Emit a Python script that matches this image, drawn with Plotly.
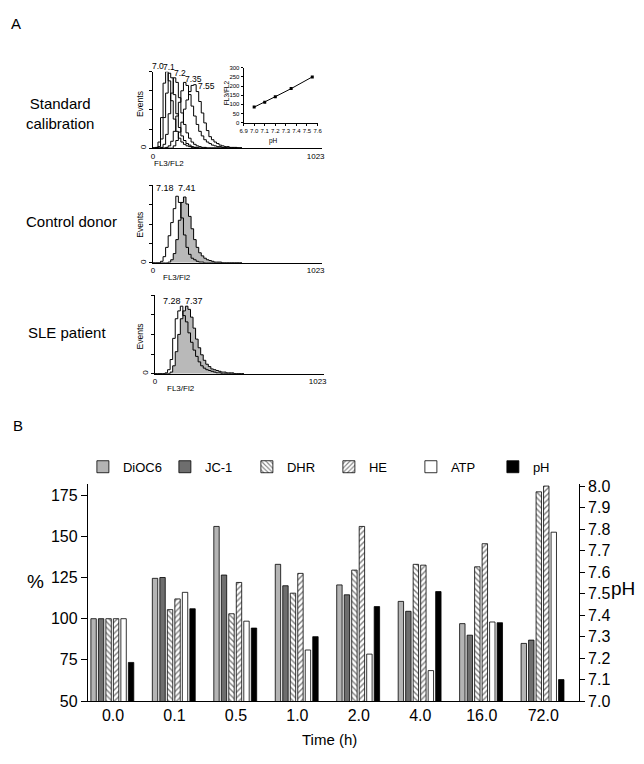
import plotly.graph_objects as go

W, H = 644, 764
FONT = "Liberation Sans, Arial, sans-serif"

# ---------------- Panel A data ----------------
CHANNELS = list(range(0, 576, 16))  # histogram bin starts (FL3/FL2 channel)

CAL_70 = [0, 1, 8, 40, 85, 100, 88, 62, 38, 22, 13, 8, 5, 3, 2, 1, 1, 0,
          0, 0, 0, 0, 0, 0, 0, 0, 0, 0, 0, 0, 0, 0, 0, 0, 0, 0]
CAL_71 = [0, 0, 2, 12, 40, 72, 98, 92, 70, 45, 27, 16, 10, 6, 4, 2, 1, 1,
          0, 0, 0, 0, 0, 0, 0, 0, 0, 0, 0, 0, 0, 0, 0, 0, 0, 0]
CAL_72 = [0, 0, 0, 1, 5, 18, 45, 72, 92, 86, 66, 46, 31, 20, 13, 8, 5, 3,
          2, 1, 1, 0, 0, 0, 0, 0, 0, 0, 0, 0, 0, 0, 0, 0, 0, 0]
CAL_735 = [0, 0, 0, 0, 0, 1, 3, 9, 22, 42, 60, 75, 86, 82, 70, 55, 42, 31,
           22, 16, 11, 8, 6, 4, 3, 2, 2, 1, 1, 0, 0, 0, 0, 0, 0, 0]
CAL_755 = [0, 0, 0, 0, 0, 0, 0, 0, 3, 10, 21, 34, 51, 63, 74, 82, 83, 74,
           61, 46, 33, 23, 15, 11, 8, 6, 4, 3, 2, 2, 1, 1, 1, 0, 0, 0]
CAL_SERIES = [CAL_70, CAL_71, CAL_72, CAL_735, CAL_755]
CAL_LABELS = ["7.0", "7.1", "7.2", "7.35", "7.55"]

CD_OPEN = [0, 0, 0, 2, 8, 20, 35, 52, 70, 86, 78, 58, 36, 20, 11, 6, 4, 2,
           1, 1, 0, 0, 0, 0, 0, 0, 0, 0, 0, 0, 0, 0, 0, 0, 0, 0]
CD_FILL = [0, 0, 0, 0, 0, 0, 1, 4, 12, 30, 55, 78, 85, 76, 60, 44, 30, 20,
           13, 9, 6, 4, 3, 2, 1, 1, 1, 0, 0, 0, 0, 0, 0, 0, 0, 0]
SLE_OPEN = [0, 0, 0, 0, 1, 5, 18, 45, 70, 80, 86, 74, 66, 52, 40, 30, 22, 15,
            10, 7, 5, 4, 3, 2, 1, 1, 0, 0, 0, 0, 0, 0, 0, 0, 0, 0]
SLE_FILL = [0, 0, 0, 0, 0, 0, 2, 10, 28, 50, 70, 80, 86, 82, 72, 58, 44, 33,
            24, 17, 12, 9, 6, 5, 4, 3, 2, 2, 1, 1, 1, 0, 0, 0, 0, 0]

STD_PH = [7.0, 7.1, 7.2, 7.35, 7.55]
STD_RATIO = [85, 112, 142, 186, 250]
INSET_TICKS = [6.9, 7.0, 7.1, 7.2, 7.3, 7.4, 7.5, 7.6]

# ---------------- Panel B data ----------------
TIMES = ["0.0", "0.1", "0.5", "1.0", "2.0", "4.0", "16.0", "72.0"]
DIOC6 = [100, 124.5, 156, 133, 120.5, 110.5, 97, 85]
JC1 = [100, 125, 126.5, 120, 114.5, 104.5, 90, 87]
DHR = [100, 105.5, 103, 115.5, 129.5, 133, 131.5, 177]
HE = [100, 112, 122, 127.5, 156, 132.5, 145.5, 180.5]
ATP = [100, 116, 98.5, 81, 78.5, 68.5, 98, 152.5]
PH = [7.18, 7.43, 7.34, 7.30, 7.44, 7.51, 7.365, 7.10]
PH_TICKS = [7.0, 7.1, 7.2, 7.3, 7.4, 7.5, 7.6, 7.7, 7.8, 7.9, 8.0]


def dx(a, b):
    return [a / W, b / W]


def dy(top, bottom):
    return [1 - bottom / H, 1 - top / H]


fig = go.Figure()

# Histogram 1 (standard calibration)
for s in CAL_SERIES:
    fig.add_trace(go.Scatter(x=CHANNELS, y=s, mode="lines", line=dict(color="black", width=1, shape="hv"),
                             xaxis="x", yaxis="y", showlegend=False, hoverinfo="skip"))
# Inset
fig.add_trace(go.Scatter(x=STD_PH, y=STD_RATIO, mode="lines+markers",
                         line=dict(color="black", width=1),
                         marker=dict(symbol="square", size=3, color="black"),
                         xaxis="x2", yaxis="y2", showlegend=False, hoverinfo="skip"))
# Histogram 2 (control donor)
fig.add_trace(go.Scatter(x=CHANNELS, y=CD_FILL, mode="lines", fill="tozeroy", fillcolor="#b9b9b9",
                         line=dict(color="black", width=1, shape="hv"),
                         xaxis="x3", yaxis="y3", showlegend=False, hoverinfo="skip"))
fig.add_trace(go.Scatter(x=CHANNELS, y=CD_OPEN, mode="lines",
                         line=dict(color="black", width=1, shape="hv"),
                         xaxis="x3", yaxis="y3", showlegend=False, hoverinfo="skip"))
# Histogram 3 (SLE patient)
fig.add_trace(go.Scatter(x=CHANNELS, y=SLE_FILL, mode="lines", fill="tozeroy", fillcolor="#b9b9b9",
                         line=dict(color="black", width=1, shape="hv"),
                         xaxis="x4", yaxis="y4", showlegend=False, hoverinfo="skip"))
fig.add_trace(go.Scatter(x=CHANNELS, y=SLE_OPEN, mode="lines",
                         line=dict(color="black", width=1, shape="hv"),
                         xaxis="x4", yaxis="y4", showlegend=False, hoverinfo="skip"))

# Panel B bars
pos = list(range(len(TIMES)))
BAR_W = 0.088
PITCH = 0.122
series = [
    ("DiOC6", DIOC6, dict(color="#b4b4b4"), "y5"),
    ("JC-1", JC1, dict(color="#6e6e6e"), "y5"),
    ("DHR", DHR, dict(color="white", pattern=dict(shape="\\", fgcolor="black", bgcolor="white",
                                                  size=4, solidity=0.35)), "y5"),
    ("HE", HE, dict(color="white", pattern=dict(shape="/", fgcolor="black", bgcolor="white",
                                                size=4, solidity=0.35)), "y5"),
    ("ATP", ATP, dict(color="white"), "y5"),
    ("pH", PH, dict(color="black"), "y6"),
]
for i, (name, vals, mk, yax) in enumerate(series):
    mk = dict(mk)
    mk["line"] = dict(color="black", width=0.8)
    fig.add_trace(go.Bar(x=pos, y=vals, name=name, marker=mk, width=BAR_W,
                         offset=-0.36 + i * PITCH, xaxis="x5", yaxis=yax, hoverinfo="skip"))

ax_common = dict(showline=True, linecolor="black", linewidth=1, showgrid=False, zeroline=False,
                 tickcolor="black", tickfont=dict(family=FONT, size=8, color="black"))

hist_x = dict(ax_common, range=[0, 1066], tickvals=[0, 1023], ticktext=["0", "1023"], ticks="",
              ticklen=0)
hist_y = dict(ax_common, range=[0, 100], tickvals=[0, 25, 50, 75, 100], ticktext=["0", "", "", "", ""],
              ticks="outside", ticklen=3, tickangle=-90)
inset_font = dict(family=FONT, size=6, color="black")
big_font = dict(family=FONT, size=16, color="black")

fig.update_layout(
    width=W, height=H, margin=dict(l=0, r=0, t=0, b=0),
    paper_bgcolor="white", plot_bgcolor="rgba(0,0,0,0)",
    font=dict(family=FONT, color="black"),
    barmode="overlay",
    xaxis=dict(hist_x, domain=dx(151, 323), anchor="y"),
    yaxis=dict(hist_y, domain=dy(67, 145), anchor="x"),
    xaxis2=dict(ax_common, domain=dx(243, 318), anchor="y2", range=[6.9, 7.6],
                tickvals=INSET_TICKS, ticktext=[f"{v:.1f}" for v in INSET_TICKS], tickangle=0,
                ticks="outside", ticklen=2, tickfont=inset_font),
    yaxis2=dict(ax_common, domain=dy(63, 119), anchor="x2", range=[0, 300], dtick=50, tickangle=0,
                ticks="outside", ticklen=2, tickfont=inset_font),
    xaxis3=dict(hist_x, domain=dx(151, 323), anchor="y3"),
    yaxis3=dict(hist_y, domain=dy(183, 262), anchor="x3"),
    xaxis4=dict(hist_x, domain=dx(153, 325), anchor="y4"),
    yaxis4=dict(hist_y, domain=dy(295, 375), anchor="x4"),
    xaxis5=dict(ax_common, domain=dx(85, 583), anchor="y5", range=[-0.41, 7.58],
                tickvals=pos, ticktext=TIMES, ticks="", tickfont=big_font),
    yaxis5=dict(ax_common, domain=dy(488, 709), anchor="x5", range=[50, 181.5],
                tickvals=[50, 75, 100, 125, 150, 175], ticks="outside", ticklen=6,
                tickfont=big_font),
    yaxis6=dict(ax_common, domain=dy(488, 709), anchor="x5", overlaying="y5", side="right",
                range=[7.0, 8.009], tickvals=PH_TICKS, ticktext=[f"{v:.1f}" for v in PH_TICKS],
                ticks="outside", ticklen=5, tickfont=big_font),
    legend=dict(orientation="h", x=80 / W, xanchor="left", y=1 - 470 / H, yanchor="middle",
                font=dict(family=FONT, size=13), entrywidthmode="pixels", entrywidth=37,
                bgcolor="rgba(0,0,0,0)", traceorder="normal"),
)

ann = []


def txt(x, y, s, size, angle=0, xanchor="center", yanchor="middle"):
    ann.append(dict(x=x / W, y=1 - y / H, xref="paper", yref="paper", text=s, showarrow=False,
                    font=dict(family=FONT, size=size, color="black"), textangle=angle,
                    xanchor=xanchor, yanchor=yanchor))


txt(12, 18, "A", 15)
txt(14, 428, "B", 15)
txt(20, 110, "Standard<br>calibration", 15, xanchor="left")
txt(20, 220, "Control donor", 15, xanchor="left")
txt(22, 333, "SLE patient", 15, xanchor="left")
for yc in (100, 223, 337):
    txt(138, yc, "Events", 8.5, angle=-90)
txt(167, 161, "FL3/FL2", 8)
txt(175, 277, "FL3/Fl2", 8)
txt(180, 390, "FL3/Fl2", 8)
# calibration peak labels
for lab, lx, ly in zip(CAL_LABELS, [156, 167, 178, 192, 205], [61, 62, 68, 74, 82]):
    txt(lx, ly, lab, 8.5)
for lab, lx, ly in [("7.18", 163, 186), ("7.41", 186, 186), ("7.28", 170, 301), ("7.37", 193, 301)]:
    txt(lx, ly, lab, 9)
# inset titles
txt(225, 88, "FL3/FL2", 6.5, angle=-90)
txt(273, 138, "pH", 6.5)
# panel B titles
txt(32, 587, "%", 19)
txt(614, 594, "pH", 19, xanchor="left")
txt(330, 748, "Time (h)", 15)
fig.update_layout(annotations=ann)

fig.write_html("out.html", post_script="document.body.style.margin='0';",
               config={"displayModeBar": False})
